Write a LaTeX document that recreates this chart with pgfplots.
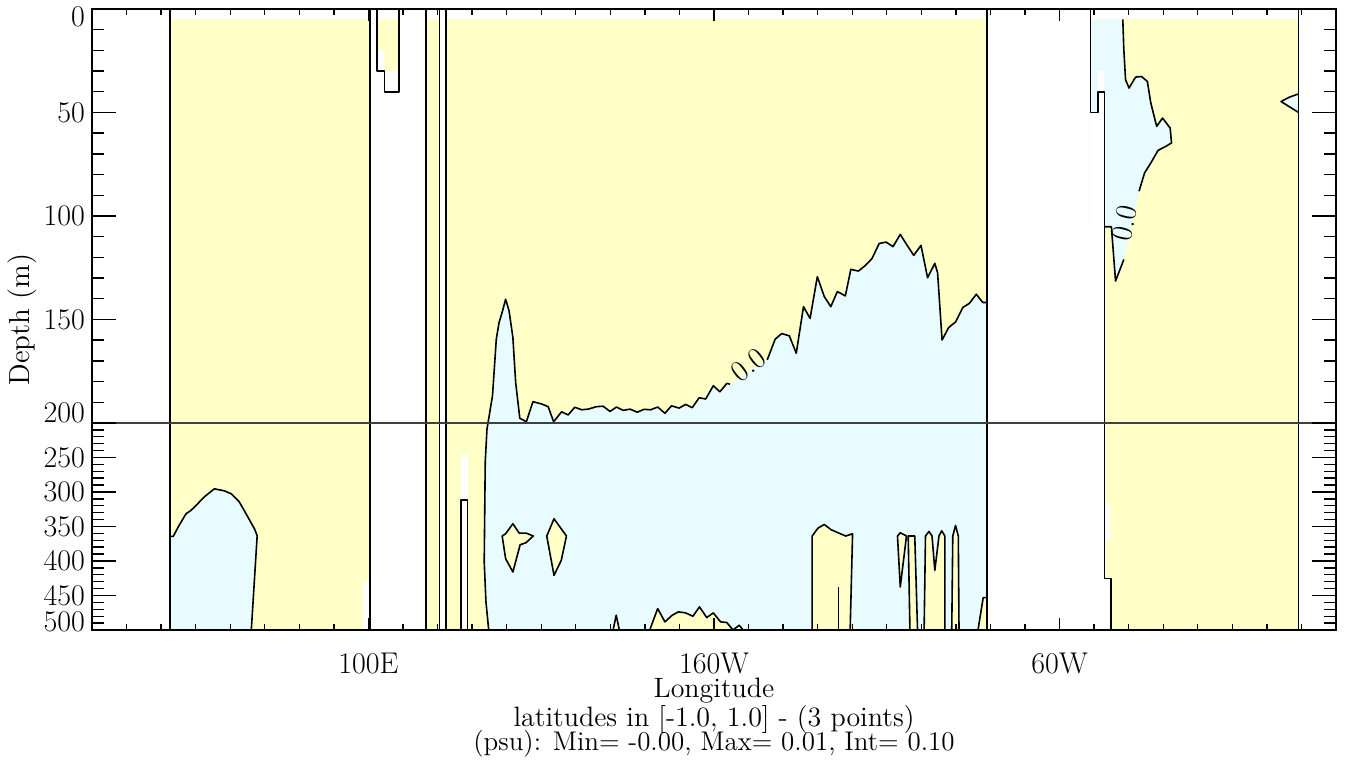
\documentclass[border=0pt]{standalone}
\usepackage{pgfplots}
\pgfplotsset{compat=1.18}
\definecolor{ylw}{RGB}{255,255,200}
\definecolor{blu}{RGB}{232,252,255}
\newcommand{\lbl}{\fontsize{15}{18}\selectfont}
\begin{document}
\begin{tikzpicture}
\begin{axis}[name=ax, scale only axis, width=622pt, height=310.5pt,
  xmin=20, xmax=380, ymin=0, ymax=500, y dir=reverse,
  y coord trafo/.code={\pgfmathparse{min(#1,200)+max(#1-200,0)/3}},
  axis on top, axis line style={line width=1pt},
  xtick=\empty,
  ytick={0,50,100,150,200,250,300,350,400,450,500},
  yticklabels={\smash{\raisebox{-8.8pt}{0}},50,100,150,\smash{\raisebox{0.2pt}{200}},250,300,350,400,450,\smash{\raisebox{-0.8pt}{500}}},
  minor ytick={10,20,30,40,60,70,80,90,110,120,130,140,160,170,180,190,210,220,230,240,260,270,280,290,310,320,330,340,360,370,380,390,410,420,430,440,460,470,480,490},
  major tick length=12pt, minor tick length=6pt,
  tick style={black, line width=0.7pt},
  tick align=inside, ytick pos=both,
  yticklabel style={font=\lbl},
  no markers,
  every axis plot/.append style={line join=round}]
% ---- yellow base fills
\addplot[fill=ylw, draw=none] coordinates {(42.5,5) (100.5,5) (100.5,500) (42.5,500)} -- cycle;
\addplot[fill=ylw, draw=none] coordinates {(102.5,5) (108.8,5) (108.8,30) (104.6,30) (104.6,20) (102.5,20)} -- cycle;
\addplot[fill=ylw, draw=none] coordinates {(116.7,5) (120.6,5) (120.6,500) (116.7,500)} -- cycle;
\addplot[fill=ylw, draw=none] coordinates {(122.5,5) (279,5) (279,500) (122.5,500)} -- cycle;
\addplot[fill=ylw, draw=none] coordinates {(309,5) (369.2,5) (369.2,500) (309,500)} -- cycle;
% ---- blue (negative) fills
\addplot[fill=blu, draw=none] coordinates {(42.5,364.4) (43.5,364.4) (45.2,348.5) (47.2,331.6) (48.6,326.8) (50.1,319.6) (52.5,307) (55.4,295.4) (58.3,298.3) (60.3,302.6) (62.6,314.2) (64.9,334.4) (67.0,353.2) (67.8,363.3) (66.1,500) (42.5,500)} -- cycle;
\addplot[fill=blu, draw=none] coordinates {(134.8,500) (134.0,458.8) (133.5,401) (133.8,256.4) (134.3,209) (135.9,186.8) (137.0,159.5) (137.8,151.5) (138.8,145.9) (139.7,140.2) (140.7,145.9) (141.8,158.7) (142.6,180.4) (143.8,197.7) (145.7,199.4) (147.6,189.7) (150.1,190.8) (152.0,192.1) (153.6,199.4) (155.9,194.6) (157.8,196.1) (159.7,192.4) (161.7,193.6) (163.6,193.3) (166.0,192.1) (167.9,191.9) (169.9,194.4) (171.8,192.3) (173.7,193.9) (175.7,193.3) (177.8,194.8) (179.7,193.4) (181.7,193.6) (183.7,192.3) (185.8,195.3) (187.7,191.7) (189.9,192.8) (191.8,191.0) (193.7,192.6) (195.7,187.8) (197.6,188.4) (199.8,182.0) (201.7,184.9) (203.7,180.9) (204.6,181.2) (215.4,169.5) (217.7,159.5) (219.6,156.8) (221.8,157.9) (223.8,166.3) (225.9,143.8) (227.8,149.5) (229.9,129.3) (231.9,138.9) (233.8,143.8) (235.7,136.5) (238.0,138.6) (239.6,125.8) (241.8,126.6) (243.8,123.9) (245.7,120.6) (247.8,113.3) (249.8,112.6) (251.8,114.8) (253.9,108.9) (255.9,114.2) (257.8,119.0) (259.9,114.2) (261.8,129.8) (263.9,122.9) (264.7,127.4) (266.0,159.9) (267.9,153.9) (269.9,151.2) (272.0,144.2) (273.9,142.2) (275.9,137.8) (277.8,141.8) (279,141.8) (279,500)} -- cycle;
\addplot[fill=blu, draw=none] coordinates {(309,5) (318.3,5) (318.6,19.8) (319.1,34.2) (320.1,38.2) (322.0,32.9) (323.7,32.6) (325.4,35.0) (326.4,45.4) (328.1,56.7) (329.8,52.7) (332.0,57.5) (332.4,64.7) (330.7,66.4) (328.5,68.3) (326.4,74.4) (324.6,79.2) (323.0,88.0) (318.6,121.0) (316.2,131.4) (315.0,105.2) (309,105.2)} -- cycle;
\addplot[fill=blu, draw=black, line width=0.8pt] coordinates {(369.2,41) (366.5,42.6) (364.1,44.7) (366.0,46.7) (369.2,50)};
% ---- yellow patches inside the blue region
\addplot[fill=ylw, draw=black, line width=0.8pt] coordinates {(138.7,363.8) (139.7,360.5) (141.8,346.0) (143.6,359.5) (145.6,359.5) (147.7,363.8) (145.6,373.5) (143.9,376.4) (141.8,415.9) (139.7,396.7)} -- cycle;
\addplot[fill=ylw, draw=black, line width=0.8pt] coordinates {(153.7,338.8) (157.3,363.8) (155.8,399.1) (153.7,420.8) (151.6,363.8)} -- cycle;
\addplot[fill=ylw, draw=black, line width=0.8pt] coordinates {(170.8,500) (171.7,478.6) (172.6,500)};
\addplot[fill=ylw, draw=black, line width=0.8pt] coordinates {(181.4,500) (183.7,469.0) (185.8,488.2) (187.9,478.6) (189.7,473.7) (191.8,475.2) (193.9,480.1) (195.8,466.5) (197.9,482.0) (199.8,475.2) (201.9,488.2) (203.7,489.2) (205.5,500) (207.3,493.1) (208.4,500)};
\addplot[fill=ylw, draw=black, line width=0.8pt] coordinates {(228.4,500) (228.4,363.8) (230.1,352.3) (231.9,347.1) (233.9,354.7) (238.1,363.8) (240.1,360.5) (239.4,500)};
\addplot[black, line width=0.8pt] coordinates {(236.0,500) (236.0,437.6)};
\addplot[fill=ylw, draw=black, line width=0.8pt] coordinates {(253.1,363.8) (253.9,359.1) (255.7,363.8) (253.9,437.6)} -- cycle;
\addplot[fill=ylw, draw=black, line width=0.8pt] coordinates {(256.7,500) (256.2,363.8) (258.1,363.8) (258.9,500)};
\addplot[fill=ylw, draw=black, line width=0.8pt] coordinates {(260.8,500) (261.2,363.8) (262.2,357.2) (263.1,363.8) (263.9,413.6) (265.1,363.8) (265.9,356.2) (266.8,363.8) (266.8,500)};
\addplot[fill=ylw, draw=black, line width=0.8pt] coordinates {(268.8,500) (269.1,363.8) (269.9,348.5) (270.7,363.8) (270.9,500)};
\addplot[fill=ylw, draw=black, line width=0.8pt] coordinates {(276.4,500) (277.9,453.1) (279.0,453.1) (279.0,500)};
% ---- missing-data / land patches
\addplot[fill=white, draw=none] coordinates {(98.5,430) (100.5,430) (100.5,500) (98.5,500)} -- cycle;
\addplot[fill=white, draw=none] coordinates {(126.7,245) (128.7,245) (128.7,500) (126.7,500)} -- cycle;
\addplot[fill=white, draw=none] coordinates {(309,50) (313,50) (313,500) (309,500)} -- cycle;
\addplot[fill=white, draw=none] coordinates {(311.1,30) (313,30) (313,50) (311.1,50)} -- cycle;
\addplot[fill=white, draw=none] coordinates {(313,425.6) (314.8,425.6) (314.8,500) (313,500)} -- cycle;
\addplot[fill=white, draw=none] coordinates {(313,317) (314.5,317) (314.5,370) (313,370)} -- cycle;
% ---- contour lines
\addplot[black, line width=0.8pt] coordinates {(42.5,364.4) (43.5,364.4) (45.2,348.5) (47.2,331.6) (48.6,326.8) (50.1,319.6) (52.5,307) (55.4,295.4) (58.3,298.3) (60.3,302.6) (62.6,314.2) (64.9,334.4) (67.0,353.2) (67.8,363.3) (66.1,500)};
\addplot[black, line width=0.8pt] coordinates {(134.8,500) (134.0,458.8) (133.5,401) (133.8,256.4) (134.3,209) (135.9,186.8) (137.0,159.5) (137.8,151.5) (138.8,145.9) (139.7,140.2) (140.7,145.9) (141.8,158.7) (142.6,180.4) (143.8,197.7) (145.7,199.4) (147.6,189.7) (150.1,190.8) (152.0,192.1) (153.6,199.4) (155.9,194.6) (157.8,196.1) (159.7,192.4) (161.7,193.6) (163.6,193.3) (166.0,192.1) (167.9,191.9) (169.9,194.4) (171.8,192.3) (173.7,193.9) (175.7,193.3) (177.8,194.8) (179.7,193.4) (181.7,193.6) (183.7,192.3) (185.8,195.3) (187.7,191.7) (189.9,192.8) (191.8,191.0) (193.7,192.6) (195.7,187.8) (197.6,188.4) (199.8,182.0) (201.7,184.9) (203.7,180.9) (204.6,181.2)};
\addplot[black, line width=0.8pt] coordinates {(215.4,169.5) (217.7,159.5) (219.6,156.8) (221.8,157.9) (223.8,166.3) (225.9,143.8) (227.8,149.5) (229.9,129.3) (231.9,138.9) (233.8,143.8) (235.7,136.5) (238.0,138.6) (239.6,125.8) (241.8,126.6) (243.8,123.9) (245.7,120.6) (247.8,113.3) (249.8,112.6) (251.8,114.8) (253.9,108.9) (255.9,114.2) (257.8,119.0) (259.9,114.2) (261.8,129.8) (263.9,122.9) (264.7,127.4) (266.0,159.9) (267.9,153.9) (269.9,151.2) (272.0,144.2) (273.9,142.2) (275.9,137.8) (277.8,141.8) (279,141.8)};
\addplot[black, line width=0.8pt] coordinates {(318.3,5) (318.6,19.8) (319.1,34.2) (320.1,38.2) (322.0,32.9) (323.7,32.6) (325.4,35.0) (326.4,45.4) (328.1,56.7) (329.8,52.7) (332.0,57.5) (332.4,64.7) (330.7,66.4) (328.5,68.3) (326.4,74.4) (324.6,79.2) (323.0,88.0)};
\addplot[black, line width=0.8pt] coordinates {(318.6,121.0) (316.2,131.4) (315.0,105.2) (313,105.2)};
% ---- coast / mask outlines
\addplot[black, line width=0.8pt] coordinates {(42.5,0) (42.5,500)};
\addplot[black, line width=0.8pt] coordinates {(100.5,0) (100.5,500)};
\addplot[black, line width=0.8pt] coordinates {(102.5,0) (102.5,30) (104.6,30) (104.6,40) (108.8,40) (108.8,0)};
\addplot[black, line width=0.8pt] coordinates {(116.7,0) (116.7,500)};
\addplot[black, line width=0.8pt] coordinates {(120.6,0) (120.6,500)};
\addplot[black, line width=0.8pt] coordinates {(122.5,0) (122.5,500)};
\addplot[black, line width=0.8pt] coordinates {(126.7,500) (126.7,311.8) (128.7,311.8) (128.7,500)};
\addplot[black, line width=0.8pt] coordinates {(279,0) (279,500)};
\addplot[black, line width=0.8pt] coordinates {(309,0) (309,50) (311.1,50) (311.1,40) (313,40) (313,425.6) (314.8,425.6) (314.8,500)};
\addplot[black, line width=0.8pt] coordinates {(369.2,0) (369.2,500)};
% ---- panel separator
\addplot[black!75, line width=0.7pt] coordinates {(20,200) (380,200)};
% ---- contour labels
\node[rotate=38, font=\lbl, inner sep=0pt] at (axis cs:209.9,172) {0.0};
\node[rotate=77, font=\lbl, inner sep=0pt] at (axis cs:318.8,103.4) {0.0};
\end{axis}
\begin{axis}[scale only axis, width=622pt, height=310.5pt,
  xmin=20, xmax=380, ymin=0, ymax=1,
  ytick=\empty,
  xtick={100,200,300}, xticklabels={100E,160W,60W},
  minor xtick={30,40,50,60,70,80,90,110,120,130,140,150,160,170,180,190,210,220,230,240,250,260,270,280,290,310,320,330,340,350,360,370},
  major tick length=6pt, minor tick length=3pt,
  tick style={black, line width=0.7pt},
  tick align=inside, xtick pos=both,
  axis line style={line width=1pt},
  xticklabel style={font=\lbl, yshift=-8pt}]
\end{axis}
\node[anchor=base, font=\fontsize{14}{16}\selectfont] at ([yshift=-34pt]ax.south) {Longitude};
\node[anchor=base, font=\fontsize{14}{15}\selectfont] at ([yshift=-48.5pt]ax.south) {latitudes in [-1.0, 1.0] - (3 points)};
\node[anchor=base, font=\fontsize{13.5}{15}\selectfont] at ([yshift=-60.5pt]ax.south) {(psu): Min= -0.00, Max= 0.01, Int= 0.10};
\node[rotate=90, font=\fontsize{14.5}{16}\selectfont] at ([xshift=-35pt]ax.west) {Depth (m)};
\pgfresetboundingbox
\path[use as bounding box] ([shift={(-46pt,-66pt)}]ax.south west) rectangle ([shift={(5.5pt,4.5pt)}]ax.north east);
\end{tikzpicture}
\end{document}
